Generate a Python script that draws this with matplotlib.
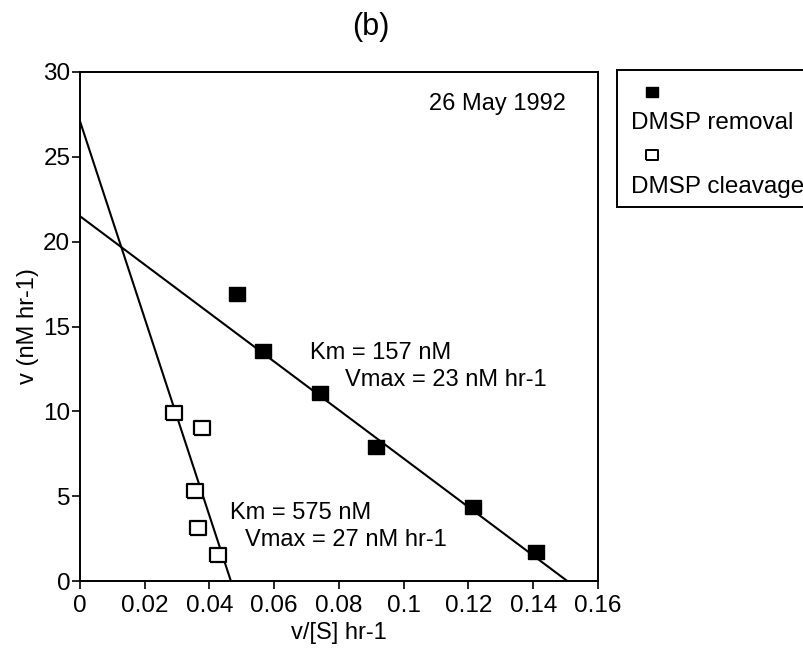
import numpy as np
import matplotlib
matplotlib.use('Agg')
import matplotlib.pyplot as plt

plt.rcParams['font.family'] = ['Liberation Sans', 'DejaVu Sans']

# DMSP removal (filled squares)
removal_x = [0.0485, 0.0565, 0.074, 0.0914, 0.1215, 0.141]
removal_y = [16.9, 13.55, 11.1, 7.87, 4.36, 1.73]
# DMSP cleavage (open squares)
cleavage_x = [0.0289, 0.0376, 0.0356, 0.0363, 0.0426]
cleavage_y = [9.92, 9.0, 5.33, 3.12, 1.52]
# fitted lines: y intercept and x intercept
removal_fit = [21.5, 0.1505]
cleavage_fit = [27.1, 0.0466]

xticks = [0, 0.02, 0.04, 0.06, 0.08, 0.1, 0.12, 0.14, 0.16]
xticklabels = ['0', '0.02', '0.04', '0.06', '0.08', '0.1', '0.12', '0.14', '0.16']
yticks = [0, 5, 10, 15, 20, 25, 30]

# slightly wide square marker like the scan
sq = [(-1.15, -1), (1.15, -1), (1.15, 1), (-1.15, 1), (-1.15, -1)]

fig = plt.figure(figsize=(8.04, 6.51), dpi=100)
ax = fig.add_axes([80/804, 1-581/651, (598-80)/804, (581-72)/651])

for fit in [removal_fit, cleavage_fit]:
    xx = np.array([0, fit[1]])
    yy = fit[0] - fit[0]/fit[1]*xx
    ax.plot(xx, yy, color='black', lw=1.5)

ax.plot(removal_x, removal_y, ls='none', marker=sq, color='black', ms=11, mec='black')
ax.plot(cleavage_x, cleavage_y, ls='none', marker=sq, mfc='white', mec='black', ms=11, mew=1.6)

ax.set_xlim(0, 0.16)
ax.set_ylim(0, 30)
ax.set_xticks(xticks)
ax.set_xticklabels(xticklabels)
ax.set_yticks(yticks)
ax.tick_params(direction='out', length=6, width=1.2, labelsize=17.5, pad=1)
ax.tick_params(axis='x', pad=4)
for s in ax.spines.values():
    s.set_linewidth(1.4)
ax.set_xlabel('v/[S] hr-1', fontsize=17, labelpad=4)
ax.set_ylabel('v (nM hr-1)', fontsize=17, labelpad=3)

fs = 17
ax.text(0.150, 28.1, '26 May 1992', fontsize=fs, ha='right', va='center')
ax.text(0.071, 13.45, 'Km = 157 nM', fontsize=fs, ha='left', va='center')
ax.text(0.0819, 11.85, 'Vmax = 23 nM hr-1', fontsize=fs, ha='left', va='center')
ax.text(0.0463, 4.0, 'Km = 575 nM', fontsize=fs, ha='left', va='center')
ax.text(0.051, 2.4, 'Vmax = 27 nM hr-1', fontsize=fs, ha='left', va='center')

fig.text(371/804, 1-27/651, '(b)', fontsize=22, ha='center', va='center')

# legend box outside on the right
lax = fig.add_axes([617/804, 1-207/651, 213/804, 137/651])
lax.set_xlim(0, 213)
lax.set_ylim(137, 0)
lax.set_xticks([])
lax.set_yticks([])
lax.spines['right'].set_visible(False)
for s in ['left', 'top', 'bottom']:
    lax.spines[s].set_linewidth(1.4)
lax.plot([35], [22], ls='none', marker=sq, color='black', ms=8)
lax.text(14, 53, 'DMSP removal', fontsize=17.5, va='center')
lax.plot([35], [85], ls='none', marker=sq, mfc='white', mec='black', ms=8, mew=1.4)
lax.text(14, 117, 'DMSP cleavage', fontsize=17.5, va='center')

fig.savefig('out.png', dpi=100)
